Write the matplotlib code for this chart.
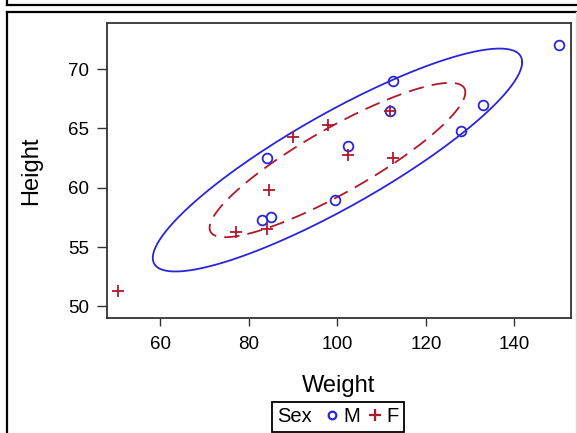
import numpy as np
import matplotlib.pyplot as plt
from matplotlib.lines import Line2D
from matplotlib.offsetbox import HPacker

plt.rcParams['font.family'] = ['Liberation Sans', 'DejaVu Sans']

# sashelp.class
sex = ['M', 'F', 'F', 'F', 'M', 'M', 'F', 'F', 'M', 'M',
       'F', 'F', 'F', 'F', 'M', 'M', 'M', 'M', 'M']
height = [69.0, 56.5, 65.3, 62.8, 63.5, 57.3, 59.8, 62.5, 62.5, 59.0,
          51.3, 64.3, 56.3, 66.5, 72.0, 64.8, 67.0, 57.5, 66.5]
weight = [112.5, 84.0, 98.0, 102.5, 102.5, 83.0, 84.5, 112.5, 84.0, 99.5,
          50.5, 90.0, 77.0, 112.0, 150.0, 128.0, 133.0, 85.0, 112.0]
alphas = [0.25, 0.5]

blue = '#2A25D9'
red = '#B2182B'


def prediction_ellipse(x, y, alpha, npts=240):
    x = np.asarray(x)
    y = np.asarray(y)
    n = len(x)
    m = n - 2
    # F(1-alpha; 2, m) has a closed form when numerator df = 2
    fq = (m / 2.0) * (alpha ** (-2.0 / m) - 1.0)
    c = np.sqrt(2.0 * (n - 1) * (n + 1) / (n * m) * fq)
    cov = np.cov(x, y)
    L = np.linalg.cholesky(cov)
    t = np.linspace(0, 2 * np.pi, npts)
    pts = c * (L @ np.vstack([np.cos(t), np.sin(t)]))
    return x.mean() + pts[0], y.mean() + pts[1]


fig = plt.figure(figsize=(5.77, 4.33), dpi=100)
ax = fig.add_axes([0.185, 0.2663, 0.8047, 0.681])

ex, ey = prediction_ellipse(weight, height, alphas[0])
ax.plot(ex, ey, color=blue, lw=1.3)
ex, ey = prediction_ellipse(weight, height, alphas[1])
ax.plot(ex, ey, color=red, lw=1.3, dashes=(8.5, 4.5))

w = np.array(weight)
h = np.array(height)
s = np.array(sex)
ax.plot(w[s == 'M'], h[s == 'M'], 'o', ms=7, mfc='none', mec=blue, mew=1.3)
ax.plot(w[s == 'F'], h[s == 'F'], '+', ms=8, mec=red, mew=1.3)

ax.set_xlim(47.9, 152.8)
ax.set_ylim(49.05, 73.9)
ax.set_xticks([60, 80, 100, 120, 140])
ax.set_yticks([50, 55, 60, 65, 70])
ax.tick_params(labelsize=13.5, width=1, color='#333333')
ax.tick_params(axis='x', length=5.5, pad=8)
ax.tick_params(axis='y', length=7.5, pad=5)
for sp in ax.spines.values():
    sp.set_color('#333333')
    sp.set_linewidth(1.3)
ax.set_xlabel('Weight', fontsize=17, labelpad=15.5)
ax.set_ylabel('Height', fontsize=17, labelpad=19)

handles = [Line2D([], [], ls='none', marker='o', ms=5.5, mfc='none', mec=blue, mew=1.6),
           Line2D([], [], ls='none', marker='+', ms=8, mec=red, mew=1.6)]
leg = fig.legend(handles, ['M', 'F'], title='Sex', ncol=2, loc='center',
                 bbox_to_anchor=(338 / 577, 0.037), fontsize=14.5, title_fontsize=14.5,
                 frameon=True, fancybox=False, edgecolor='black', framealpha=1,
                 handlelength=0.55, handletextpad=0.3, columnspacing=0.45,
                 borderpad=0.28, labelspacing=0.72, borderaxespad=0)
leg.get_frame().set_linewidth(1.3)
# put the title on the same line as the entries
leg._legend_box.__class__ = HPacker

# frames of the surrounding output
lk = dict(transform=fig.transFigure, color='black', lw=1.6)
fig.add_artist(Line2D([7 / 577, 7 / 577], [1, 1 - 5 / 433], **lk))
fig.add_artist(Line2D([7 / 577, 1], [1 - 5 / 433, 1 - 5 / 433], **lk))
fig.add_artist(Line2D([7 / 577, 1], [1 - 12 / 433, 1 - 12 / 433], **lk))
fig.add_artist(Line2D([7 / 577, 7 / 577], [1 - 12 / 433, 0], **lk))
fig.add_artist(Line2D([575.5 / 577, 575.5 / 577], [1 - 12 / 433, 0],
                      transform=fig.transFigure, color='#d8d8d8', lw=1))

fig.savefig('out.png', dpi=100)
